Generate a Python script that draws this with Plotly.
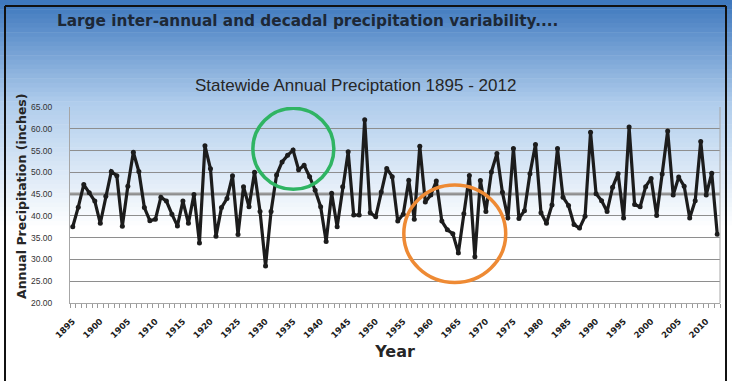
import plotly.graph_objects as go

# Statewide annual precipitation (inches), 1895-2012
years = list(range(1895, 2013))
precip = [
    37.5, 42.0, 47.2, 45.3, 43.4, 38.3, 44.5, 50.2, 49.2, 37.6,
    46.8, 54.6, 50.2, 41.9, 38.9, 39.2, 44.3, 43.4, 40.4, 37.7,
    43.4, 38.3, 44.9, 33.8, 56.1, 50.8, 35.3, 41.9, 44.0, 49.2,
    35.7, 46.7, 42.1, 50.0, 41.0, 28.5, 41.0, 49.4, 52.4, 53.9,
    55.1, 50.6, 51.6, 49.0, 45.9, 42.1, 34.1, 45.2, 37.5, 46.7,
    54.7, 40.2, 40.2, 62.1, 40.7, 39.8, 45.5, 50.9, 49.0, 38.8,
    40.4, 48.2, 39.2, 56.0, 43.2, 44.8, 48.0, 38.8, 36.8, 35.9,
    31.5, 40.5, 49.3, 30.6, 48.1, 41.0, 50.1, 54.3, 45.4, 39.5,
    55.5, 39.4, 41.2, 49.7, 56.4, 40.7, 38.3, 42.5, 55.5, 44.3,
    42.4, 38.0, 37.2, 39.9, 59.2, 45.1, 43.5, 41.0, 46.6, 49.7,
    39.5, 60.4, 42.6, 42.1, 46.7, 48.6, 40.1, 49.6, 59.5, 44.8,
    48.9, 46.8, 39.5, 43.5, 57.1, 44.8, 49.8, 35.8,
]
label_years = list(range(1895, 2011, 5))
y_ticks = [20, 25, 30, 35, 40, 45, 50, 55, 60, 65]
mean_level = 45.0

W, H = 732, 381
ML, MR, MT, MB = 70, 12, 107, 78
PW = W - ML - MR
PH = H - MT - MB


def px_x(px):
    return (px - ML) / PW


def px_y(py):
    return (H - MB - py) / PH


fig = go.Figure()
fig.add_trace(go.Scatter(
    x=years, y=precip, mode="lines+markers",
    line=dict(color="#1c1c1c", width=3.2),
    marker=dict(color="#1c1c1c", size=5),
    hoverinfo="x+y", showlegend=False,
))

shapes = []
# sky-blue gradient behind the top of the slide
top_rgb = (62, 120, 190)
mid_rgb = (176, 205, 236)
low_rgb = (255, 255, 255)
n_bands = 50
band_h = 230 / n_bands
for k in range(n_bands):
    t = k / (n_bands - 1)
    if t < 0.45:
        u = t / 0.45
        c = [round(a + (b - a) * u) for a, b in zip(top_rgb, mid_rgb)]
    else:
        u = (t - 0.45) / 0.55
        c = [round(a + (b - a) * u) for a, b in zip(mid_rgb, low_rgb)]
    y0 = k * band_h
    shapes.append(dict(
        type="rect", xref="paper", yref="paper", layer="below",
        x0=px_x(0), x1=px_x(W), y0=px_y(y0 + band_h + 0.5), y1=px_y(y0),
        fillcolor=f"rgb({c[0]},{c[1]},{c[2]})", line=dict(width=0),
    ))

# long-term mean line
shapes.append(dict(
    type="line", xref="paper", yref="y", layer="below",
    x0=0, x1=1, y0=mean_level, y1=mean_level,
    line=dict(color="#9a9a9a", width=3),
))

# highlight circles: wet 1930s run and 1960s drought
shapes.append(dict(
    type="circle", xref="x", yref="y",
    x0=1927.7, x1=1942.4, y0=46.1, y1=64.7,
    line=dict(color="#2fb463", width=3.5),
))
shapes.append(dict(
    type="circle", xref="x", yref="y",
    x0=1955.1, x1=1973.6, y0=24.7, y1=47.1,
    line=dict(color="#ee8a34", width=3.5),
))

# plot-area right border
shapes.append(dict(
    type="line", xref="paper", yref="paper",
    x0=1, x1=1, y0=0, y1=1, line=dict(color="#a6a6a6", width=1),
))

# slide frame
frame = dict(color="#111111", width=2)
shapes.append(dict(type="line", xref="paper", yref="paper",
                   x0=px_x(5), x1=px_x(5), y0=px_y(6), y1=px_y(381), line=frame))
shapes.append(dict(type="line", xref="paper", yref="paper",
                   x0=px_x(5), x1=px_x(726), y0=px_y(6), y1=px_y(6), line=frame))
shapes.append(dict(type="line", xref="paper", yref="paper",
                   x0=px_x(726), x1=px_x(726), y0=px_y(6), y1=px_y(381), line=frame))

annotations = [
    dict(text="Large inter-annual and decadal precipitation variability....",
         xref="paper", yref="paper", x=px_x(55), y=px_y(21),
         xanchor="left", yanchor="middle", showarrow=False,
         font=dict(family="DejaVu Sans", size=15.3,
                   color="#1d2836", weight="bold")),
    dict(text="Statewide Annual Preciptation 1895 - 2012",
         xref="paper", yref="paper", x=px_x(355), y=px_y(86),
         xanchor="center", yanchor="middle", showarrow=False,
         font=dict(family="Liberation Sans", size=17, color="#262626")),
    dict(text="Annual Precipitation (inches)",
         xref="paper", yref="paper", x=px_x(21), y=px_y(196),
         xanchor="center", yanchor="middle", textangle=-90, showarrow=False,
         font=dict(family="DejaVu Sans", size=12.5, color="#262626", weight="bold")),
]

fig.update_layout(
    width=W, height=H,
    margin=dict(l=ML, r=MR, t=MT, b=MB, pad=0),
    paper_bgcolor="white",
    plot_bgcolor="rgba(0,0,0,0)",
    shapes=shapes,
    annotations=annotations,
    showlegend=False,
    xaxis=dict(
        range=[1894.5, 2012.5],
        tickvals=label_years,
        ticktext=[str(y) for y in label_years],
        tickangle=-45,
        ticks="outside", ticklen=9, tickcolor="rgba(0,0,0,0)",
        tickfont=dict(family="DejaVu Sans", size=8.5, color="#1a1a1a", weight="bold"),
        showgrid=False, zeroline=False,
        showline=True, linecolor="#a6a6a6", linewidth=1,
        minor=dict(ticks="outside", ticklen=4, tickcolor="#9a9a9a",
                   tick0=1894.5, dtick=1, showgrid=False),
        title=dict(text="Year", standoff=6,
                   font=dict(family="DejaVu Sans", size=16, color="#262626", weight="bold")),
    ),
    yaxis=dict(
        range=[20, 65],
        tickvals=y_ticks,
        ticktext=[f"{v:.2f}" for v in y_ticks],
        ticks="outside", ticklen=15, tickcolor="rgba(0,0,0,0)",
        tickfont=dict(family="Liberation Sans", size=8.5, color="#333333"),
        showgrid=True, gridcolor="#8e8e8e", gridwidth=1,
        zeroline=False,
        showline=True, linecolor="#a6a6a6", linewidth=1,
    ),
)

fig.write_html("out.html")
